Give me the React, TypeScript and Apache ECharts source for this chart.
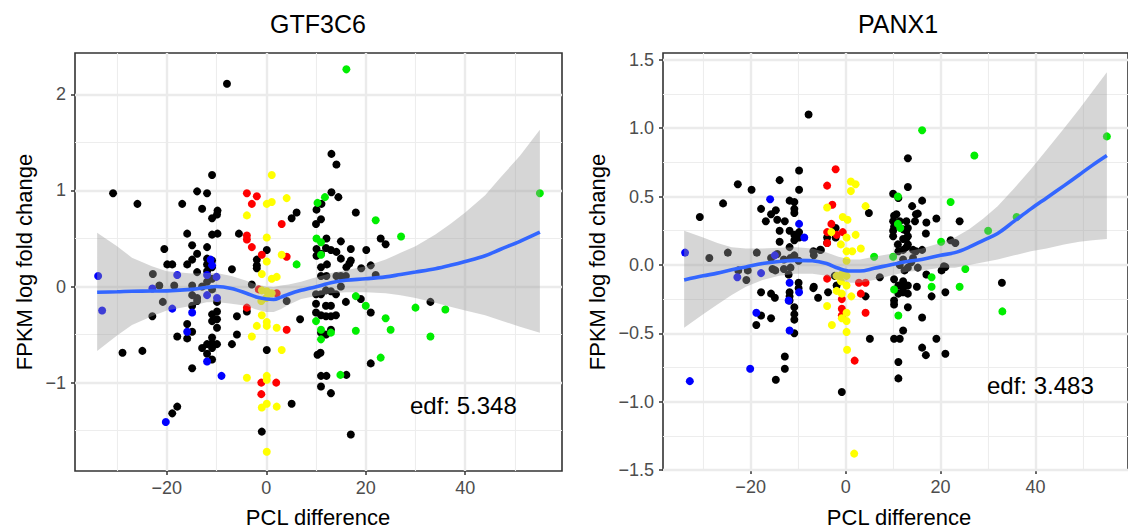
import React, { useEffect, useRef } from 'react';
import * as echarts from 'echarts';

const FONT = '"Liberation Sans", Arial, Helvetica, sans-serif';

// ---------------- GTF3C6 (left panel) ----------------
const gBlack: number[][] = [
  [-7.9,2.11],[-30.8,0.97],[-25.9,0.86],[-10.9,1.16],[-13.9,0.99],[-11.9,0.97],[-16.9,0.86],[-12.9,0.81],[-9.8,0.79],[-9.9,0.75],
  [-10.9,0.71],[-15.9,0.55],[-10.9,0.54],[-9.8,0.55],[-5.5,0.55],[-14.9,0.43],[-11.9,0.41],[-20.5,0.39],[-13.9,0.34],[-14.9,0.28],
  [-11.9,0.29],[-19.9,0.23],[-18.9,0.23],[-15.9,0.23],[-13.9,0.15],[-11.9,0.16],[-6.9,0.18],[0.1,0.38],[-1.9,0.28],[-1.9,0.22],
  [-1.9,0.19],[5.1,0.71],[6.1,0.77],[-22.8,0.13],[-2.9,0.02],[-21.5,0.01],[-18.5,0.01],[-10.9,0.27],[-11.9,0.23],[-10.9,0.2],
  [-12.9,0.0],[-10.9,-0.03],[-14.9,-0.09],[-13.9,-0.12],[-14.9,0.01],[-20.8,-0.16],[-22.9,-0.31],[-14.9,-0.2],[-13.9,-0.15],[-9.9,-0.16],
  [-9.9,-0.26],[-10.9,-0.29],[-10.9,-0.36],[-9.9,-0.34],[-9.9,-0.43],[-15.9,-0.39],[-14.9,-0.47],[-17.9,-0.52],[-15.9,-0.54],[-10.9,-0.53],
  [-10.9,-0.59],[-11.9,-0.6],[-9.9,-0.6],[-12.9,-0.64],[-10.9,-0.64],[-6.9,-0.6],[-5.9,-0.5],[-5.9,-0.31],[-3.9,-0.26],[-28.9,-0.69],
  [-24.9,-0.67],[-11.9,-0.7],[-10.9,-0.76],[-14.9,-0.85],[-17.9,-1.25],[-18.9,-1.32],[-0.9,-1.51],[5.1,-1.22],[0.1,-0.66],[4.1,-0.15],
  [6.8,-0.34],[-11.9,0.05],[-10.9,0.08],
  [13.1,1.38],[14.1,1.27],[13.1,0.98],[14.5,0.93],[11.1,0.86],[10.1,0.8],[18,0.77],[11,0.7],[10,0.65],[23,0.5],
  [24,0.44],[12.1,0.5],[15,0.47],[10.1,0.39],[12,0.4],[13,0.38],[14.1,0.36],[17,0.39],[20.1,0.38],[10.1,0.32],
  [11,0.34],[15,0.29],[17,0.27],[16.7,0.24],[16.1,0.2],[11,0.2],[12.2,0.23],[19.1,0.19],[21,0.22],[22,0.12],
  [11,0.11],[12.1,0.11],[14.1,0.11],[15,0.11],[16,0.11],[10,-0.08],[11,-0.08],[12,-0.04],[13,-0.05],[14,-0.08],
  [15,0.0],[19,-0.13],[16,-0.16],[10,-0.18],[12,-0.2],[13,-0.2],[33,-0.16],[21,-0.27],[10,-0.27],[11,-0.3],
  [12,-0.31],[13,-0.31],[14,-0.3],[11,-0.48],[13,-0.45],[12,-0.5],[21,-0.8],[10.9,-0.69],[10.3,-0.71],[11,-0.93],
  [12.1,-0.93],[16.1,-0.92],[11,-1.04],[13,-1.11],[17,-1.54],
];
const gBlue: number[][] = [
  [-33.8,0.11],[-17.9,0.12],[-11.2,0.28],[-10.9,0.22],[-11.9,0.12],[-22.9,-0.02],[-33,-0.25],[-18.9,-0.23],[-14.9,-0.27],[-11.9,-0.09],
  [-9.9,-0.12],[-15.9,-0.47],[-11.9,-0.78],[-9,-0.93],[-20.2,-1.41],[-10,0.1],
];
const gRed: number[][] = [
  [-3.9,0.97],[-1.9,0.94],[-2.9,0.86],[3.1,0.65],[-3.9,0.53],[-3.9,0.49],[-2.9,0.41],[-0.9,0.33],[4.1,0.31],[-3.9,-0.22],
  [2.1,-0.07],[-1.5,-0.03],[4.1,-0.45],[-1,-1.0],[2,-1.0],[-1,-1.12],
];
const gYellow: number[][] = [
  [1.1,1.16],[0.1,0.86],[1.1,0.88],[4.1,0.92],[-3.9,0.74],[0.1,0.51],[3.1,0.33],[0.1,0.26],[-0.9,0.13],[1.1,0.08],
  [2.1,0.1],[-0.9,-0.04],[0.1,-0.05],[1.1,-0.07],[-1,-0.15],[0,-0.12],[-0.9,-0.3],[0.1,-0.37],[0.1,-0.41],[2.1,-0.43],
  [-1.9,-0.41],[-2.9,-0.52],[3.1,-0.66],[-3.9,-0.95],[0.1,-0.93],[0.1,-0.97],[-0.9,-1.26],[0.1,-1.22],[2.1,-1.25],[0.1,-1.72],
];
const gGreen: number[][] = [
  [16.1,2.26],[11.8,0.93],[10.3,0.87],[22,0.69],[27.1,0.52],[10.1,0.5],[11,0.46],[11,0.33],[6.1,0.23],[55,0.97],
  [18,-0.1],[20,-0.2],[30,-0.22],[36,-0.24],[24,-0.33],[10,-0.36],[25,-0.45],[18,-0.46],[33,-0.52],[23,-0.74],
  [11,-0.45],[11,-0.55],[13,-0.48],[14.9,-0.92],
];
const gFitX = [-34,-30,-27,-23,-20,-15,-12,-10,-7,-4,-2,0,1.5,3,4.5,7,9,11,13,16,20,24,27,30,34,37,40,44,47,51,55];
const gFit = [-0.06,-0.055,-0.05,-0.047,-0.045,-0.03,-0.01,0.0,-0.02,-0.07,-0.11,-0.13,-0.135,-0.11,-0.08,-0.04,-0.015,0.01,0.04,0.065,0.08,0.1,0.125,0.15,0.185,0.22,0.26,0.32,0.385,0.47,0.565];
const gUpper = [0.56,0.42,0.3,0.21,0.16,0.135,0.14,0.14,0.11,0.06,0.02,0.0,-0.005,0.01,0.02,0.05,0.08,0.11,0.14,0.17,0.21,0.28,0.35,0.42,0.54,0.65,0.77,0.95,1.13,1.36,1.63];
const gLower = [-0.67,-0.51,-0.4,-0.31,-0.25,-0.2,-0.165,-0.16,-0.18,-0.2,-0.24,-0.265,-0.265,-0.235,-0.19,-0.13,-0.11,-0.09,-0.07,-0.06,-0.06,-0.07,-0.09,-0.12,-0.17,-0.21,-0.25,-0.3,-0.35,-0.42,-0.48];
const gXTicks = [-20, 0, 20, 40];
const gYTicks = [-1, 0, 1, 2];
const gXMinor = [-30, -10, 10, 30, 50];
const gYMinor = [-1.5, -0.5, 0.5, 1.5];

// ---------------- PANX1 (right panel) ----------------
const pBlack: number[][] = [
  [-7.8,1.1],[-30.7,0.35],[-25.8,0.45],[-22.7,0.59],[-19.8,0.55],[-13.9,0.62],[-9.8,0.69],[-9.8,0.55],[-11.8,0.47],[-10.8,0.46],
  [-10.8,0.41],[-10.8,0.38],[-17.8,0.41],[-15.7,0.37],[-14.7,0.4],[-16.8,0.32],[-14.4,0.33],[-12.8,0.32],[-13.9,0.25],[-11.8,0.25],
  [-10.8,0.22],[-9.8,0.24],[-13.9,0.17],[-10.8,0.18],[-9.8,0.2],[-6.8,0.1],[-5.4,0.11],[-28.7,0.05],[-24.8,0.09],[-18.7,0.09],
  [-11.8,0.13],[-14.4,0.08],[-10.8,0.07],[-15.7,0.05],[-13,0.04],[-11.6,0.05],[-9.9,0.03],[-11.6,-0.02],[-13,-0.03],[-15.4,-0.03],
  [-20.6,-0.04],[-22.6,-0.04],[-20.9,-0.11],[-14.8,-0.04],[-6.7,0.07],[-12,-0.07],[-9.9,-0.13],[-9.9,-0.17],[-6.8,-0.17],[-5.8,-0.24],
  [-3.7,-0.2],[-17.8,-0.2],[-15.7,-0.21],[-14.9,-0.24],[-11.8,-0.2],[-11.8,-0.23],[-11.8,-0.26],[-10.8,-0.31],[-10.8,-0.36],[-6.7,-0.16],
  [-1.9,-0.15],[-17.8,-0.37],[-15.7,-0.39],[-18.8,-0.44],[-10.8,-0.5],[-10.8,-0.4],[-14.7,-0.84],[-12.8,-0.76],[-12.8,-0.67],[-0.8,-0.93],
  [-2.3,-0.08],[-2.1,0.27],[-2.1,0.2],[-3.9,0.2],[-3.9,0.16],[-5.2,0.11],
  [13.1,0.78],[13.1,0.57],[10,0.52],[11.1,0.49],[16.1,0.47],[14,0.43],[4.9,0.38],[10.7,0.37],[10,0.32],[14.8,0.37],
  [12.8,0.32],[17,0.31],[19.1,0.34],[24,0.32],[14.6,0.32],[10,0.25],[12.8,0.25],[10,0.21],[12.8,0.195],[16.9,0.23],
  [22.1,0.18],[23.1,0.16],[10.2,0.36],[11.4,0.32],[10.2,0.28],[12.1,0.26],[13.1,0.27],[13.1,0.21],[12.1,0.19],[11,0.15],
  [13.1,0.15],[12.1,0.11],[11.1,0.1],[14.2,0.11],[16.1,0.11],[12.8,0.13],[14.8,0.1],[12.1,0.04],[14.2,0.05],[11.4,0.0],
  [13.8,0.02],[13.1,-0.02],[15.2,-0.02],[12.4,-0.04],[21,-0.015],[20.2,-0.04],[7.2,-0.09],[10.2,-0.105],[12.1,-0.12],[11.1,-0.15],
  [12.1,-0.17],[13.1,-0.15],[12.1,-0.2],[11.1,-0.21],[13.1,-0.21],[10.2,-0.26],[10.2,-0.29],[13.1,-0.31],[16.1,-0.385],[15,-0.16],
  [17,-0.07],[18.1,-0.23],[21,-0.2],[12.1,-0.48],[5.1,-0.54],[10.2,-0.54],[11.4,-0.54],[19.1,-0.54],[16.1,-0.605],[16.9,-0.66],
  [21,-0.65],[11.1,-0.71],[11.1,-0.83],[32.9,-0.13],[4.2,-0.23],[20.7,-0.01],[15.2,0.375],
];
const pBlue: number[][] = [
  [-15.9,0.48],[-9.8,0.3],[-8.7,0.2],[-33.8,0.09],[-17.8,-0.06],[-22.8,-0.09],[-11.8,-0.13],[-9.8,-0.2],[-18.8,-0.35],[-11.8,-0.48],
  [-32.8,-0.85],[-20.1,-0.76],[-12,-0.26],[-14.9,0.07],
];
const pRed: number[][] = [
  [-2.1,0.7],[-3.9,0.58],[-2.8,0.44],[-3.0,0.3],[-3.9,0.24],[-3.9,0.16],[-1.9,0.22],[-0.6,0.24],[-3.9,-0.1],[-0.8,-0.25],
  [-0.8,-0.32],[-0.8,-0.37],[2.8,-0.13],[4.2,-0.13],[3.2,-0.21],[4.2,-0.35],[1.9,-0.7],
];
const pYellow: number[][] = [
  [-3.9,0.42],[1.1,0.61],[2.1,0.59],[1.1,0.54],[-0.6,0.35],[0.4,0.33],[4.2,0.43],[2.1,0.22],[0.2,0.2],[-1,0.15],
  [0.2,0.1],[1.4,0.1],[3.2,0.12],[-3,0.24],[0.2,0.03],[-1.9,-0.08],[-0.8,-0.07],[0.2,-0.08],[-1,-0.12],[0.2,-0.15],
  [-0.8,-0.21],[1.2,-0.23],[-1.9,-0.19],[-3.9,-0.3],[0.2,-0.35],[-0.8,-0.39],[-2.9,-0.44],[0.2,-0.49],[0.3,-0.62],[0.2,-0.41],
  [1.8,-1.38],
];
const pGreen: number[][] = [
  [16.1,0.985],[27.1,0.8],[55,0.94],[11,0.5],[22.1,0.46],[11,0.3],[11.5,0.27],[30,0.25],[36,0.35],[20.1,0.17],
  [6,0.06],[10,0.06],[25.2,-0.03],[10.2,-0.18],[18.1,-0.09],[18.1,-0.16],[24,-0.16],[11.1,-0.37],[33,-0.34],
];
const pFitX = [-34,-30,-27,-24,-21,-17.5,-14,-10.5,-7,-4,-1.5,1,3,6,9.3,13,16,20,23,26,29,32,35.5,39,42.3,46,49.2,52,55];
const pFit = [-0.11,-0.08,-0.06,-0.035,-0.015,0.01,0.025,0.033,0.03,0.01,-0.025,-0.045,-0.045,-0.025,0.0,0.025,0.04,0.07,0.09,0.13,0.18,0.23,0.32,0.41,0.49,0.58,0.66,0.73,0.8];
const pUpper = [0.25,0.2,0.16,0.13,0.12,0.12,0.125,0.13,0.12,0.09,0.06,0.04,0.04,0.06,0.08,0.1,0.12,0.16,0.2,0.26,0.34,0.43,0.56,0.7,0.84,1.0,1.14,1.27,1.41];
const pLower = [-0.46,-0.36,-0.29,-0.22,-0.16,-0.11,-0.08,-0.065,-0.065,-0.08,-0.11,-0.13,-0.13,-0.11,-0.08,-0.05,-0.04,-0.02,-0.02,0.0,0.02,0.04,0.07,0.1,0.12,0.15,0.17,0.18,0.19];
const pXTicks = [-20, 0, 20, 40];
const pYTicks = [-1.5, -1, -0.5, 0, 0.5, 1, 1.5];
const pXMinor = [-30, -10, 10, 30, 50];
const pYMinor = [-1.25, -0.75, -0.25, 0.25, 0.75, 1.25];

const COLORS = { black: '#000000', blue: '#0000ff', red: '#ff0000', yellow: '#ffff00', green: '#00ee00' };

const minus = (s: string) => s.replace('-', '\u2212');

function gridLines(xMajor: number[], xMinor: number[], yMajor: number[], yMinor: number[]) {
  const major = { color: '#ebebeb', width: 2.4, type: 'solid' };
  const minor = { color: '#ededed', width: 1.1, type: 'solid' };
  return {
    silent: true,
    symbol: ['none', 'none'],
    label: { show: false },
    emphasis: { disabled: true },
    z: 1,
    animation: false,
    data: [
      ...xMinor.map((v) => ({ xAxis: v, lineStyle: minor })),
      ...yMinor.map((v) => ({ yAxis: v, lineStyle: minor })),
      ...xMajor.map((v) => ({ xAxis: v, lineStyle: major })),
      ...yMajor.map((v) => ({ yAxis: v, lineStyle: major })),
    ],
  };
}

function scatter(data: number[][], color: string, idx: number, markLine?: any) {
  const s: any = {
    type: 'scatter', xAxisIndex: idx, yAxisIndex: idx, data, symbolSize: 8, z: 2,
    itemStyle: { color, opacity: 1 }, silent: true,
  };
  if (markLine) s.markLine = markLine;
  return s;
}

function band(xs: number[], lo: number[], hi: number[], idx: number) {
  return {
    type: 'custom', xAxisIndex: idx, yAxisIndex: idx, z: 3, silent: true,
    data: [[xs[0], lo[0]]],
    renderItem: (_params: any, api: any) => {
      const pts: number[][] = [];
      for (let i = 0; i < xs.length; i++) pts.push(api.coord([xs[i], hi[i]]));
      for (let i = xs.length - 1; i >= 0; i--) pts.push(api.coord([xs[i], lo[i]]));
      return { type: 'polygon', shape: { points: pts }, style: { fill: 'rgba(153,153,153,0.4)' } };
    },
  };
}

function fitLine(xs: number[], ys: number[], idx: number) {
  return {
    type: 'line', xAxisIndex: idx, yAxisIndex: idx, z: 4, silent: true,
    data: xs.map((x, i) => [x, ys[i]]),
    smooth: 0.35, showSymbol: false, symbol: 'none',
    lineStyle: { color: '#3366ff', width: 3.6 },
  };
}

function xAxis(idx: number, ticks: number[]) {
  return {
    type: 'value', gridIndex: idx, min: -38.45, max: 59.45,
    axisLine: { show: false, onZero: false },
    axisTick: { show: true, length: 4, customValues: ticks, lineStyle: { color: '#333333', width: 1.5 } },
    axisLabel: {
      customValues: ticks, margin: 8, fontSize: 18, color: '#4d4d4d', fontFamily: FONT,
      formatter: (v: number) => minus(String(v)),
    },
    splitLine: { show: false },
  };
}

function yAxis(idx: number, ticks: number[], min: number, max: number, dec: number) {
  return {
    type: 'value', gridIndex: idx, min, max,
    axisLine: { show: false, onZero: false },
    axisTick: { show: true, length: 4, customValues: ticks, lineStyle: { color: '#333333', width: 1.5 } },
    axisLabel: {
      customValues: ticks, margin: 9, fontSize: 18, color: '#4d4d4d', fontFamily: FONT,
      formatter: (v: number) => minus(v.toFixed(dec)),
    },
    splitLine: { show: false },
  };
}

function text(t: string, x: number, y: number, size: number, align = 'center', rotation = 0) {
  return {
    type: 'text', x, y, rotation, silent: true, z: 100,
    style: { text: t, font: `${size}px ${FONT}`, fill: '#000000', align, verticalAlign: 'middle' },
  };
}

export default function App() {
  const ref = useRef<HTMLDivElement>(null);
  useEffect(() => {
    if (!ref.current) return;
    const chart = echarts.init(ref.current, undefined, { renderer: 'svg' });
    const gridStyle = { show: true, backgroundColor: '#ffffff', borderColor: '#333333', borderWidth: 1.6, containLabel: false };
    chart.setOption({
      animation: false,
      backgroundColor: '#ffffff',
      grid: [
        { ...gridStyle, left: 75, top: 53, width: 487, height: 418 },
        { ...gridStyle, left: 663, top: 53, width: 475, height: 417 },
      ],
      xAxis: [xAxis(0, gXTicks), xAxis(1, pXTicks)],
      yAxis: [yAxis(0, gYTicks, -1.92, 2.43, 0), yAxis(1, pYTicks, -1.5, 1.55, 1)],
      series: [
        scatter(gBlack, COLORS.black, 0, gridLines(gXTicks, gXMinor, gYTicks, gYMinor)),
        scatter(gBlue, COLORS.blue, 0),
        scatter(gRed, COLORS.red, 0),
        scatter(gYellow, COLORS.yellow, 0),
        scatter(gGreen, COLORS.green, 0),
        band(gFitX, gLower, gUpper, 0),
        fitLine(gFitX, gFit, 0),
        scatter(pBlack, COLORS.black, 1, gridLines(pXTicks, pXMinor, pYTicks, pYMinor)),
        scatter(pBlue, COLORS.blue, 1),
        scatter(pRed, COLORS.red, 1),
        scatter(pYellow, COLORS.yellow, 1),
        scatter(pGreen, COLORS.green, 1),
        band(pFitX, pLower, pUpper, 1),
        fitLine(pFitX, pFit, 1),
      ],
      graphic: [
        text('GTF3C6', 318, 24, 25),
        text('PANX1', 898, 24, 25),
        text('PCL difference', 318, 517, 22),
        text('PCL difference', 899, 517, 22),
        text('FPKM log fold change', 24, 262, 22, 'center', Math.PI / 2),
        text('FPKM log fold change', 597, 262, 22, 'center', Math.PI / 2),
        text('edf: 5.348', 410, 405, 24, 'left'),
        text('edf: 3.483', 987, 385, 24, 'left'),
      ],
    });
    return () => chart.dispose();
  }, []);
  return <div ref={ref} style={{ position: 'fixed', left: 0, top: 0, width: 1128, height: 531, background: '#fff' }} />;
}
